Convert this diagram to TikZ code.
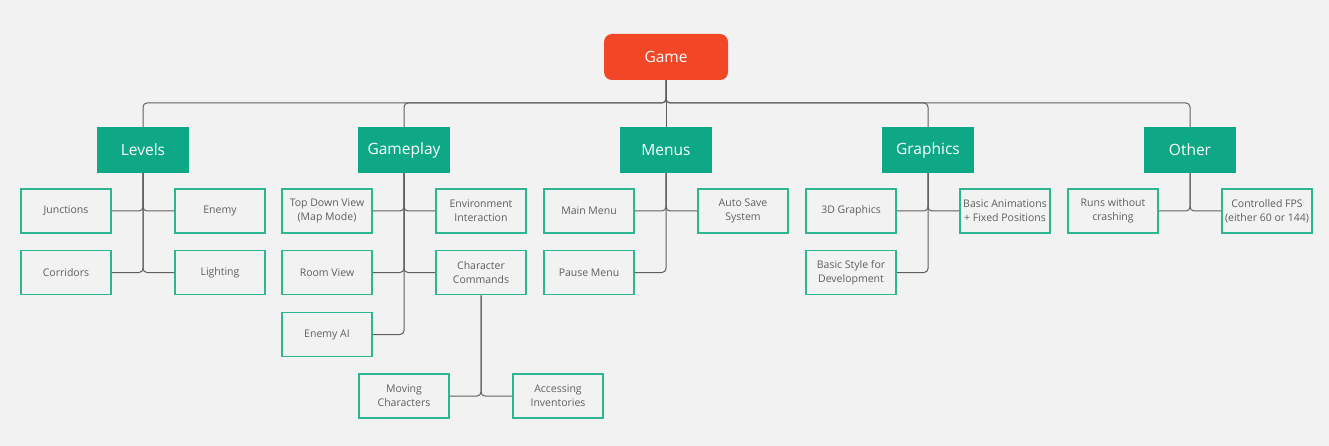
\documentclass[tikz,border=0pt]{standalone}
\usepackage{fontspec}
\setmainfont{Open Sans}
\begin{document}
\begin{tikzpicture}[x=1pt,y=-1pt]
\definecolor{bg}{RGB}{242,242,242}
\definecolor{teal}{RGB}{14,168,135}
\definecolor{leafc}{RGB}{45,182,146}
\definecolor{orng}{RGB}{242,71,38}
\definecolor{linec}{RGB}{95,95,95}
\definecolor{txt}{RGB}{95,95,95}
\tikzset{
  rootbox/.style={fill=orng, rounded corners=8pt, minimum width=124pt, minimum height=46pt, inner sep=0pt, text=white, font=\fontsize{15.5}{18}\selectfont},
  catbox/.style={fill=teal, minimum width=92pt, minimum height=46pt, inner sep=0pt, text=white, font=\fontsize{15.5}{18}\selectfont},
  leafbox/.style={draw=leafc, fill=bg, line width=1.8pt, minimum width=90pt, minimum height=44pt, inner sep=0pt, text=txt, align=center, font=\fontsize{10.5}{14}\selectfont},
  conn/.style={draw=linec, line width=1pt, rounded corners=4pt},
}
\useasboundingbox (0,0) rectangle (1329,446);
\fill[bg] (0,0) rectangle (1329,446);

% root
\node[rootbox] (game) at (666,57) {Game};
\coordinate (bus) at (666,103);

% categories
\node[catbox] (levels) at (143,150) {Levels};
\node[catbox] (gameplay) at (404,150) {Gameplay};
\node[catbox] (menus) at (666,150) {Menus};
\node[catbox] (graphics) at (928,150) {Graphics};
\node[catbox] (other) at (1190,150) {Other};

% bus connectors
\draw[conn] (game.south) -- (bus) -| (levels.north);
\draw[conn] (game.south) -- (bus) -| (gameplay.north);
\draw[conn] (game.south) -- (menus.north);
\draw[conn] (game.south) -- (bus) -| (graphics.north);
\draw[conn] (game.south) -- (bus) -| (other.north);

% Levels
\node[leafbox] (junctions) at (66,211) {Junctions};
\node[leafbox] (enemy) at (220,211) {Enemy};
\node[leafbox] (corridors) at (66,272.5) {Corridors};
\node[leafbox] (lighting) at (220,272.5) {Lighting};

% Gameplay
\node[leafbox] (topdown) at (327,211) {Top Down View\\(Map Mode)};
\node[leafbox] (envint) at (481,211) {Environment\\Interaction};
\node[leafbox] (roomview) at (327,272.5) {Room View};
\node[leafbox] (charcmd) at (481,272.5) {Character\\Commands};
\node[leafbox] (enemyai) at (327,334.5) {Enemy AI};
\node[leafbox] (moving) at (404,396) {Moving\\Characters};
\node[leafbox] (inventories) at (558,396) {Accessing\\Inventories};

% Menus
\node[leafbox] (mainmenu) at (589,211) {Main Menu};
\node[leafbox] (autosave) at (743,211) {Auto Save\\System};
\node[leafbox] (pausemenu) at (589,272.5) {Pause Menu};

% Graphics
\node[leafbox] (threed) at (851,211) {3D Graphics};
\node[leafbox] (basicanim) at (1005,211) {Basic Animations\\+ Fixed Positions};
\node[leafbox] (basicstyle) at (851,272.5) {Basic Style for\\Development};

% Other
\node[leafbox] (runs) at (1113,211) {Runs without\\crashing};
\node[leafbox] (fps) at (1267,211) {Controlled FPS\\(either 60 or 144)};

% child connectors
\draw[conn] (levels.south) |- (junctions.east);
\draw[conn] (levels.south) |- (enemy.west);
\draw[conn] (levels.south) |- (corridors.east);
\draw[conn] (levels.south) |- (lighting.west);

\draw[conn] (gameplay.south) |- (topdown.east);
\draw[conn] (gameplay.south) |- (envint.west);
\draw[conn] (gameplay.south) |- (roomview.east);
\draw[conn] (gameplay.south) |- (charcmd.west);
\draw[conn] (gameplay.south) |- (enemyai.east);
\draw[conn] (charcmd.south) |- (moving.east);
\draw[conn] (charcmd.south) |- (inventories.west);

\draw[conn] (menus.south) |- (mainmenu.east);
\draw[conn] (menus.south) |- (autosave.west);
\draw[conn] (menus.south) |- (pausemenu.east);

\draw[conn] (graphics.south) |- (threed.east);
\draw[conn] (graphics.south) |- (basicanim.west);
\draw[conn] (graphics.south) |- (basicstyle.east);

\draw[conn] (other.south) |- (runs.east);
\draw[conn] (other.south) |- (fps.west);
\end{tikzpicture}
\end{document}
